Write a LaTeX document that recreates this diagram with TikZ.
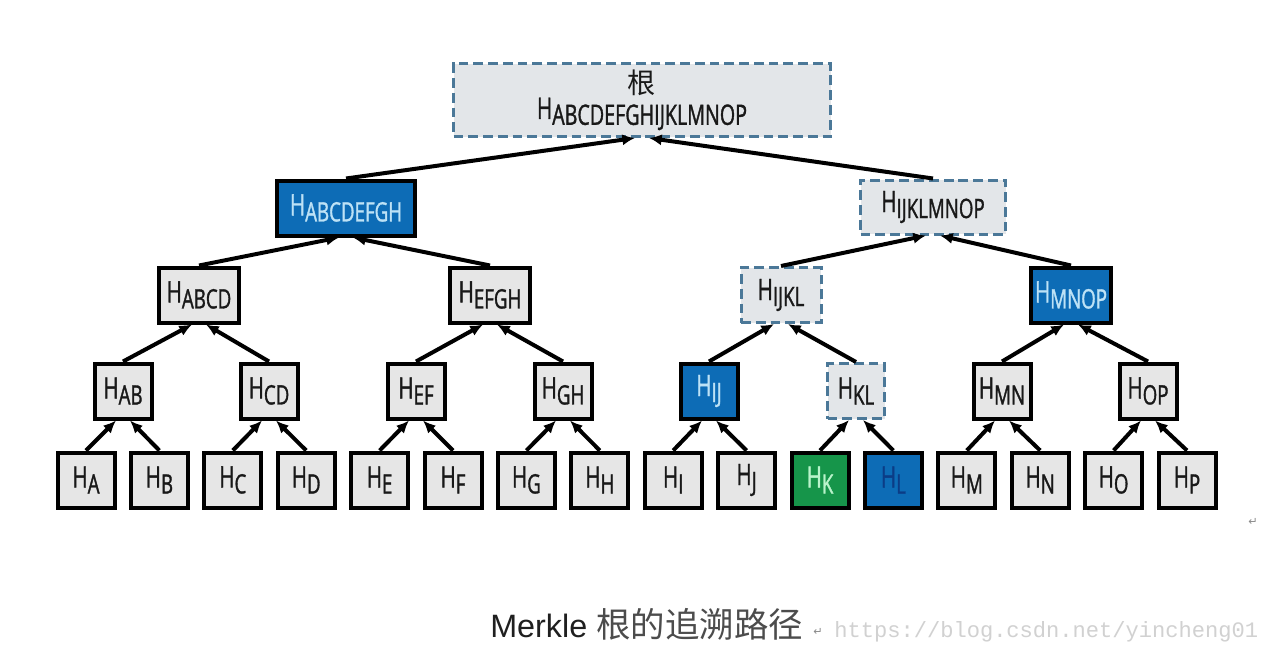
\documentclass[tikz,border=0pt]{standalone}
\usepackage{fontspec}
\usetikzlibrary{arrows.meta}
\setmainfont{Liberation Sans}
\newfontfamily\boxfont{Open Sans}[FakeStretch=0.7, FakeBold=1.2]
\newfontfamily\cjkfont{Noto Sans CJK SC}
\newfontfamily\markfont{Liberation Mono}
\newfontfamily\symfont{DejaVu Sans}
\definecolor{boxgray}{HTML}{E6E6E6}
\definecolor{boxpale}{HTML}{E3E6E9}
\definecolor{dashblue}{HTML}{4B7898}
\definecolor{boxblue}{HTML}{0D6CB6}
\definecolor{textblue}{HTML}{BDE2F6}
\definecolor{boxgreen}{HTML}{16954A}
\definecolor{textgreen}{HTML}{B9F3CB}
\definecolor{textnavy}{HTML}{0B3C86}
\newlength\pxu
\setlength\pxu{0.025cm}
\newcommand{\hs}[2][19]{H\raisebox{-6\pxu}{\fontsize{#1}{#1}\selectfont #2}}

\begin{document}
\begin{tikzpicture}[x=0.025cm, y=-0.025cm]
    \tikzstyle{hash}=[rectangle, draw=black, line width=4\pxu, fill=boxgray, text=black!90,
        minimum width=57\pxu, minimum height=55\pxu, inner sep=0pt,
        font=\boxfont\fontsize{21}{23}\selectfont]
    \tikzstyle{onpath}=[fill=boxblue, text=textblue]
    \tikzstyle{proof}=[draw=dashblue, line width=3\pxu, dash pattern=on 7pt off 3.5pt, fill=boxpale]
    \tikzstyle{link}=[-{Latex[length=9pt,width=8pt]}, line width=4\pxu, draw=black]
    \useasboundingbox[fill=white] (0,0) rectangle (1280,659);

    % Draw the leaf hashes
    \foreach \name/\fc/\tc [count=\i from 0] in {A/boxgray/black!90, B/boxgray/black!90,
        C/boxgray/black!90, D/boxgray/black!90, E/boxgray/black!90, F/boxgray/black!90,
        G/boxgray/black!90, H/boxgray/black!90, I/boxgray/black!90, J/boxgray/black!90,
        K/boxgreen/textgreen, L/boxblue/textnavy, M/boxgray/black!90, N/boxgray/black!90,
        O/boxgray/black!90, P/boxgray/black!90}
        \node[hash, fill=\fc, text=\tc] (N-\name) at ({86+73.4*\i},480) {\hs{\name}};

    % Pairs of leaves
    \node[hash] (N-AB) at (123,391) {\hs{AB}};
    \node[hash] (N-CD) at (269,391) {\hs{CD}};
    \node[hash] (N-EF) at (416,391) {\hs{EF}};
    \node[hash] (N-GH) at (563,391) {\hs{GH}};
    \node[hash, onpath] (N-IJ) at (709,391) {\hs{IJ}};
    \node[hash, proof] (N-KL) at (856,391) {\hs{KL}};
    \node[hash] (N-MN) at (1002,391) {\hs{MN}};
    \node[hash] (N-OP) at (1148,391) {\hs{OP}};

    % Groups of four
    \node[hash, minimum width=80\pxu] (N-ABCD) at (199,295) {\hs{ABCD}};
    \node[hash, minimum width=80\pxu] (N-EFGH) at (490,295) {\hs{EFGH}};
    \node[hash, proof, minimum width=80\pxu] (N-IJKL) at (781,295) {\hs{IJKL}};
    \node[hash, onpath, minimum width=80\pxu] (N-MNOP) at (1071,295) {\hs{MNOP}};

    % Halves and the root
    \node[hash, onpath, minimum width=138\pxu] (N-ABCDEFGH) at (346,208) {\hs{ABCDEFGH}};
    \node[hash, proof, minimum width=145\pxu, minimum height=54\pxu] (N-IJKLMNOP) at (933,207) {\hs{IJKLMNOP}};
    \node[hash, proof, minimum width=377\pxu, minimum height=73\pxu, align=center,
        font=\boxfont\fontsize{21}{23}\selectfont]
        (N-ABCDEFGHIJKLMNOP) at (642,100)
        {{\cjkfont\fontsize{20}{20}\selectfont 根}\\[-5pt]\hs[20]{ABCDEFGHIJKLMNOP}};

    % Connect every pair of children with their parent
    \foreach \one/\two/\up in {A/B/AB, C/D/CD, E/F/EF, G/H/GH, I/J/IJ, K/L/KL, M/N/MN, O/P/OP,
        AB/CD/ABCD, EF/GH/EFGH, IJ/KL/IJKL, MN/OP/MNOP,
        ABCD/EFGH/ABCDEFGH, IJKL/MNOP/IJKLMNOP, ABCDEFGH/IJKLMNOP/ABCDEFGHIJKLMNOP}
    {
        \draw[link] (N-\one.north) -- ([xshift=-7\pxu]N-\up.south);
        \draw[link] (N-\two.north) -- ([xshift=7\pxu]N-\up.south);
    }

    % Caption and page marks
    \node[anchor=base west, inner sep=0pt, font=\fontsize{23}{23}\selectfont, text=black!88] (cap) at (490,637)
        {Merkle {\cjkfont\fontsize{24.5}{25}\selectfont\color{black!70}根的追溯路径}};
    \node[font=\symfont\fontsize{8}{8}\selectfont, text=black!45, inner sep=0pt] (ret-1) at (818,632) {↵};
    \node[anchor=base west, inner sep=0pt, font=\markfont\fontsize{15.7}{16}\selectfont, text=black!18] (mark) at (834,637)
        {https://blog.csdn.net/yincheng01};
    \node[font=\symfont\fontsize{8}{8}\selectfont, text=black!45, inner sep=0pt] (ret-2) at (1253,522) {↵};
\end{tikzpicture}
\end{document}
